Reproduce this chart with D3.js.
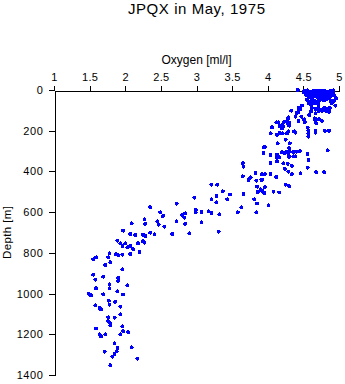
<!DOCTYPE html>
<html>
<head>
<meta charset="utf-8">
<script src="https://cdn.jsdelivr.net/npm/d3@7"></script>
<style>
  html, body { margin: 0; padding: 0; background: #fff; }
  svg { display: block; font-family: "Liberation Sans", Arial, Helvetica, sans-serif; }
</style>
</head>
<body>
<svg id="chart" width="345" height="384"></svg>
<script>
const titleText = "JPQX in May, 1975";
const xLabel = "Oxygen [ml/l]";
const yLabel = "Depth [m]";
const xTicks = [1, 1.5, 2, 2.5, 3, 3.5, 4, 4.5, 5];
const yTicks = [0, 200, 400, 600, 800, 1000, 1200, 1400];

// deep layer
const oxygenDeep = [1.97,2.07,2.14,2.25,2.28,2.35,2.41,1.89,1.93,1.96,2.00,2.03,2.07,2.11,2.18,2.25,2.27,2.20,1.78,1.87,1.90,1.96,2.07,1.59,1.55,1.76,1.79,1.72,1.96,1.55,1.69,1.58,1.90,1.90,1.78,2.03,1.59,1.78,1.89,1.49,1.52,1.69,1.97,1.77,1.86,1.58,1.64,1.66,1.78,1.93,1.76,1.85,1.76,1.79,1.79,1.93,1.96,1.59,1.97,2.04,1.64,1.66,1.72,1.93,1.85,2.09,1.89,1.88,1.71,1.85,1.82,2.17,1.79];
const depthDeep  = [691,707,712,711,717,701,709,740,753,766,753,773,766,782,753,743,750,796,802,806,812,809,806,822,832,822,846,860,881,907,917,932,923,938,954,959,974,974,989,1001,1008,1004,1004,1035,1041,1058,1071,1077,1055,1064,1117,1118,1136,1146,1156,1102,1161,1171,1185,1190,1200,1210,1200,1200,1244,1264,1267,1283,1285,1297,1310,1320,1352];

// intermediate layer
const oxygenMid = [3.21,3.29,3.73,3.37,3.47,3.66,3.28,2.97,3.21,3.28,3.43,2.72,3.63,2.35,2.99,2.99,2.84,2.80,3.07,3.17,3.21,3.58,2.49,2.53,2.83,3.32,2.27,2.45,2.72,2.09,2.28,2.47,2.84,3.07,2.55,2.66,2.90,3.31,3.84,3.65,3.66,3.65,3.74,3.76,3.83,3.84,3.85,3.86,3.81,3.85];
const depthMid  = [465,465,442,498,514,511,521,529,537,552,537,558,576,576,589,602,606,613,599,596,604,601,601,619,627,611,635,645,645,655,657,662,657,650,671,707,704,696,601,359,377,424,436,429,408,446,475,501,537,557];

// upper layer
const oxygenUpper = [4.33,4.41,4.47,4.51,4.60,4.58,4.67,4.71,4.76,4.82,4.86,4.66,4.72,4.76,4.68,4.29,4.39,4.23,4.30,4.12,4.15,4.06,4.17,4.20,4.20,4.22,4.30,4.37,4.39,4.29,4.27,4.57,4.57,4.57,4.67,4.67,4.80,4.86,4.04,4.13,4.17,4.21,4.25,4.14,4.31,3.96,3.94,3.94,4.30,4.27,4.31,4.24,4.29,4.36,4.41,4.45,4.20,4.13,4.04,4.13,4.16,4.30,4.36,4.39,4.56,4.84,4.57,4.22,4.28,4.34,4.24,4.04,4.13,4.56,4.29,4.34,4.46,4.68,4.79,3.96,4.04,4.12,3.91,3.92,3.96,3.92,3.95,4.08,4.16,4.25,4.30,4.01,3.90,3.92];
const depthUpper  = [102,113,131,144,107,123,114,103,102,102,107,139,144,151,164,134,131,156,162,159,159,183,177,172,188,180,175,203,210,203,213,201,213,229,201,210,201,201,213,221,210,213,244,262,262,279,281,309,286,303,303,311,314,305,303,301,306,319,319,333,331,328,326,326,314,296,344,360,363,373,387,359,352,382,401,413,409,404,403,413,413,427,442,439,478,496,506,500,503,465,473,566,488,414];

// surface layer
const oxygenSurface = [4.42,4.52,4.56,4.60,4.64,4.68,4.72,4.76,4.80,4.84,4.88,4.92,4.54,4.58,4.62,4.66,4.70,4.74,4.78,4.82,4.86,4.55,4.60,4.65,4.68,4.72,4.77,4.81,4.85,4.90,4.58,4.63,4.70,4.75,4.80,4.84,4.62,4.72,4.66,4.78,4.93,4.96,4.93,4.95,4.88,4.90,4.80,4.73,4.55,4.58,4.57,4.61,4.62,4.66,4.69,4.71,4.62,4.67,4.71,4.75,4.79,4.83,4.87,4.61,4.43,4.46,4.48,4.43,4.43,4.66,4.67,4.52,4.56,4.28,4.28,4.50,4.53,4.57,4.61,4.65,4.69,4.73,4.77,4.81,4.85,4.89,4.64,4.70,4.76,4.82,4.87,4.92];
const depthSurface  = [0,5,2,8,3,6,2,5,3,8,4,2,15,12,18,14,17,13,18,15,12,25,28,22,30,25,28,24,30,26,35,38,35,40,37,42,45,48,52,50,25,40,54,77,54,64,49,49,49,57,64,74,62,64,59,69,88,93,84,98,88,93,88,103,88,93,77,108,152,147,157,159,185,147,163,10,20,10,25,10,22,8,22,10,20,18,32,30,32,30,38,14];

const oxygen = [].concat(oxygenSurface, oxygenUpper, oxygenMid, oxygenDeep);
const depth = [].concat(depthSurface, depthUpper, depthMid, depthDeep);
const points = oxygen.map((o, i) => ({ o, d: depth[i] }));

const svg = d3.select("#chart");
const mLeft = 54, mRight = 339, mTop = 90, mBottom = 375;

const x = d3.scaleLinear().domain([1, 5]).range([mLeft, mRight]);
const y = d3.scaleLinear().domain([0, 1400]).range([mTop, mBottom]);

// title
svg.append("text")
  .attr("x", (mLeft + mRight) / 2).attr("y", 14)
  .attr("text-anchor", "middle")
  .attr("font-size", 15)
  .attr("textLength", 137).attr("lengthAdjust", "spacing")
  .text(titleText);

// x axis (top)
const gx = svg.append("g")
  .attr("transform", `translate(0,${mTop + 0.5})`)
  .call(d3.axisTop(x).tickValues(xTicks).tickSize(5).tickSizeOuter(0).tickPadding(5)
        .tickFormat(d => String(d)));
gx.selectAll("text").attr("font-size", 11).attr("font-family", null).attr("fill", "#000")
  .attr("letter-spacing", 0.3);

// y axis (left)
const gy = svg.append("g")
  .attr("transform", `translate(${mLeft + 0.5},0)`)
  .call(d3.axisLeft(y).tickValues(yTicks).tickSize(6).tickSizeOuter(0).tickPadding(5)
        .tickFormat(d => String(d)));
gy.selectAll("text").attr("font-size", 11).attr("font-family", null).attr("fill", "#000")
  .attr("letter-spacing", 0.6);

svg.selectAll(".domain, .tick line").attr("stroke", "#000").attr("shape-rendering", "crispEdges");

// axis labels
svg.append("text")
  .attr("x", (mLeft + mRight) / 2).attr("y", 64)
  .attr("text-anchor", "middle")
  .attr("font-size", 12)
  .attr("textLength", 70).attr("lengthAdjust", "spacing")
  .text(xLabel);

svg.append("text")
  .attr("transform", `translate(10.5,${(mTop + mBottom) / 2}) rotate(-90)`)
  .attr("text-anchor", "middle")
  .attr("font-size", 11.5)
  .attr("textLength", 53).attr("lengthAdjust", "spacing")
  .text(yLabel);

// points
svg.append("g")
  .selectAll("circle")
  .data(points)
  .join("circle")
  .attr("cx", p => x(p.o))
  .attr("cy", p => y(p.d))
  .attr("r", 2)
  .attr("fill", "#0000ff")
  .attr("shape-rendering", "crispEdges");
</script>
</body>
</html>
